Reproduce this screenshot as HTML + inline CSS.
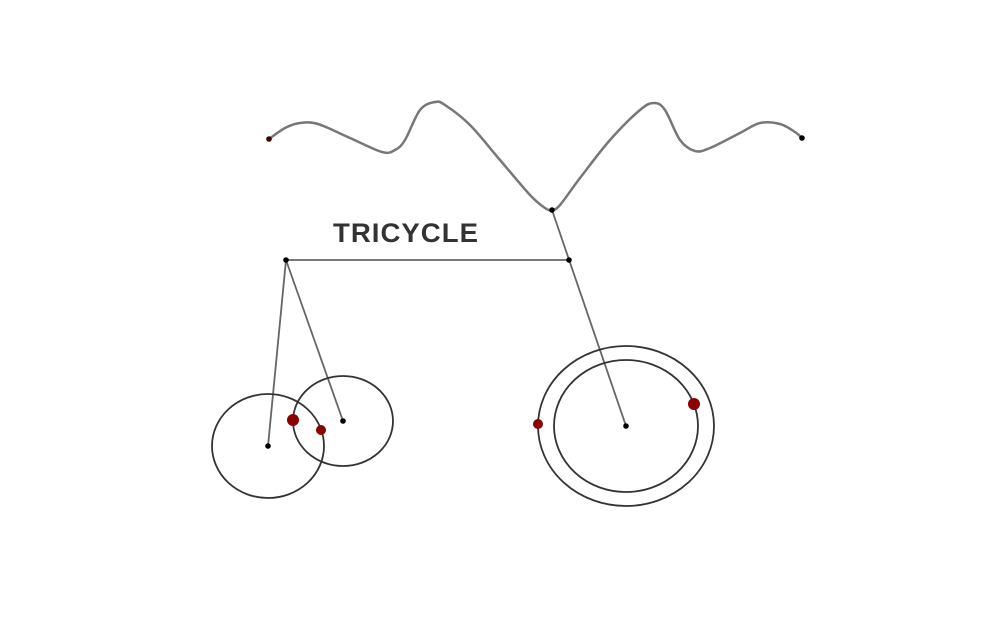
<!DOCTYPE html>
<html><head><meta charset="utf-8">
<style>
html,body{margin:0;padding:0;background:#fff;}
svg{display:block;}
</style></head>
<body>
<svg id="chart" width="998" height="641" viewBox="0 0 998 641" xmlns="http://www.w3.org/2000/svg">
<text x="406" y="242" text-anchor="middle" font-family="'Liberation Sans', sans-serif" font-weight="bold" font-size="27" letter-spacing="1" fill="#333" textLength="146" lengthAdjust="spacingAndGlyphs">TRICYCLE</text>
</svg>
<script>
const curveX = [269,285,300,318,350,382,395,405,420,435,445,470,500,530,545,552,560,580,610,640,654,665,680,695,710,740,760,780,795,802];
const curveY = [139,128,123,124,138,152,150,140,110,102,105,125,160,195,208,210,205,178,140,110,103,110,140,151,148,133,123,124,132,138];
const wheelCx = [268,343,626,626];
const wheelCy = [446,421,426,426];
const wheelRx = [56,50,88,72];
const wheelRy = [52,45,80,66];
const frameX1 = [286,286,286,552];
const frameY1 = [260,260,260,210];
const frameX2 = [569,268,343,626];
const frameY2 = [260,446,421,426];
const jointX = [269,802,552,286,569,268,343,626];
const jointY = [139,138,210,260,260,446,421,426];
const redX = [293,321,538,694];
const redY = [420,430,424,404];
const redR = [6,5,5,6];

const NS='http://www.w3.org/2000/svg';
const svg=document.getElementById('chart');
function mk(t,a){const e=document.createElementNS(NS,t);for(const k in a)e.setAttribute(k,a[k]);svg.appendChild(e);return e;}

let d='M'+curveX[0]+' '+curveY[0]+' ';
const n=curveX.length;
for(let i=0;i<n-1;i++){
 const i0=Math.max(i-1,0),i3=Math.min(i+2,n-1);
 const c1x=curveX[i]+(curveX[i+1]-curveX[i0])/6, c1y=curveY[i]+(curveY[i+1]-curveY[i0])/6;
 const c2x=curveX[i+1]-(curveX[i3]-curveX[i])/6, c2y=curveY[i+1]-(curveY[i3]-curveY[i])/6;
 d+='C'+c1x+' '+c1y+' '+c2x+' '+c2y+' '+curveX[i+1]+' '+curveY[i+1]+' ';
}
const curve=mk('path',{d:d,fill:'none',stroke:'#777',"stroke-width":2.5,"stroke-linejoin":'round',"stroke-linecap":'round'});



for(let i=0;i<frameX1.length;i++){
 const l=mk('line',{x1:frameX1[i],y1:frameY1[i],x2:frameX2[i],y2:frameY2[i],stroke:'#666',"stroke-width":1.8});
 
 
}
for(let i=0;i<wheelCx.length;i++){
 const c=mk('ellipse',{cx:wheelCx[i],cy:wheelCy[i],rx:wheelRx[i],ry:wheelRy[i],fill:'none',stroke:'#333',"stroke-width":1.8});
 
 
}
for(let i=0;i<jointX.length;i++){
 const c=mk('circle',{cx:jointX[i],cy:jointY[i],r:2.8,fill:i==0?'#3a0000':'#000'});
 
 
}
for(let i=0;i<redX.length;i++){
 const c=mk('circle',{cx:redX[i],cy:redY[i],r:redR[i],fill:'#8b0000'});
 
 
}
</script>
</body></html>
